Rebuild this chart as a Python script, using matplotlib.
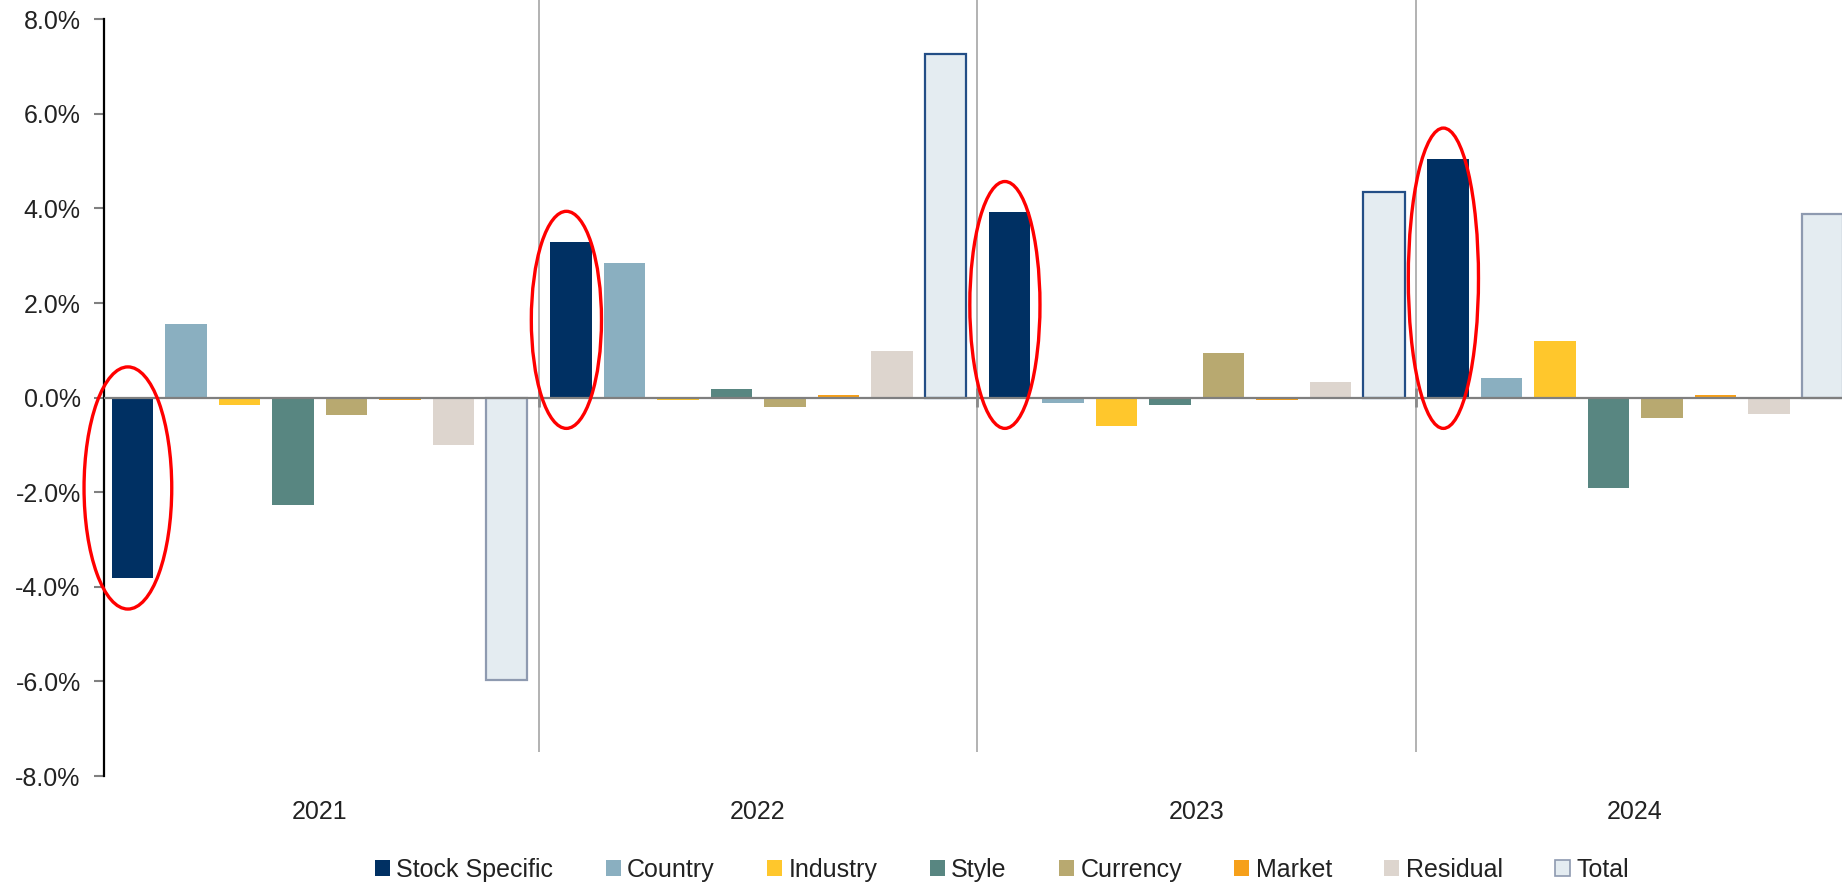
import numpy as np
import matplotlib.pyplot as plt
from matplotlib.patches import Ellipse, Patch

plt.rcParams['font.family'] = ['Liberation Sans', 'DejaVu Sans']

# data (% contribution)
years = ['2021', '2022', '2023', '2024']
factors = ['Stock Specific', 'Country', 'Industry', 'Style', 'Currency', 'Market', 'Residual', 'Total']
stock_specific = [-3.82, 3.29, 3.92, 5.05]
country = [1.55, 2.85, -0.12, 0.41]
industry = [-0.16, -0.04, -0.60, 1.19]
style = [-2.27, 0.18, -0.16, -1.90]
currency = [-0.36, -0.19, 0.94, -0.44]
market = [-0.05, 0.06, -0.04, 0.06]
residual = [-1.01, 0.98, 0.34, -0.35]
total = [-5.97, 7.27, 4.35, 3.89]

series = [stock_specific, country, industry, style, currency, market, residual, total]
colors = ['#003063', '#8AAFC0', '#FFC72C', '#588681', '#B8A970', '#F6A01A', '#DDD5CE', '#E4ECF1']
total_edges = ['#8E9AB0', '#234E86', '#234E86', '#8E9AB0']

fig = plt.figure(figsize=(18.42, 8.86), dpi=100)
ax = fig.add_axes([104.3 / 1842, 1 - 776 / 886, (1842 - 104.3) / 1842, (776 - 19.3) / 886])

x = np.arange(len(years))
pitch = 0.122
width = 0.0946
for i, vals in enumerate(series):
    pos = x + (i - 3.5) * pitch
    if factors[i] == 'Total':
        ax.bar(pos, vals, width, color=colors[i], edgecolor=total_edges, linewidth=1.6, zorder=2)
    else:
        ax.bar(pos, vals, width, color=colors[i], zorder=2)

ax.set_xlim(-0.4908, 3.472)
ax.set_ylim(-8, 8)

# zero line and year separators
ax.axhline(0, color='#7F7F7F', lw=1.6, zorder=3)
ax.vlines([0.5, 1.5, 2.5], -7.5, 8.45, colors='#A6A6A6', lw=1.2, clip_on=False, zorder=1)
ax.vlines([0.5, 1.5, 2.5], -0.2, 0.2, colors='#8A8A8A', lw=2, zorder=3)

for s in ['top', 'right', 'bottom']:
    ax.spines[s].set_visible(False)
ax.spines['left'].set_color('black')
ax.spines['left'].set_linewidth(1.6)

yt = np.arange(-8, 9, 2)
ax.set_yticks(yt)
ax.set_yticklabels([f'{v:.1f}%' for v in yt])
ax.tick_params(axis='y', direction='out', length=7, width=1.5, color='#808080',
               pad=10, labelsize=18, labelcolor='#222222')
ax.set_xticks(x)
ax.set_xticklabels(years)
ax.tick_params(axis='x', length=0, pad=17, labelsize=18, labelcolor='#222222')

# red ellipses around stock specific bars
ell_w = [0.2, 0.16, 0.16, 0.16]
for k, v in enumerate(stock_specific):
    cx = k - 3.5 * pitch - 0.01
    e = Ellipse((cx, v / 2), ell_w[k], abs(v) + 1.3, fill=False, ec='#FF0000',
                lw=2.4, clip_on=False, zorder=5)
    ax.add_patch(e)

handles = []
for i, f in enumerate(factors):
    if f == 'Total':
        handles.append(Patch(facecolor=colors[i], edgecolor='#8E9AB0', linewidth=1.2))
    else:
        handles.append(Patch(facecolor=colors[i], edgecolor='none'))
fig.legend(handles, factors, loc='center', bbox_to_anchor=(0.544, 0.018), ncol=8,
           frameon=False, fontsize=18, handlelength=0.6, handleheight=0.6,
           handletextpad=0.25, columnspacing=2.1, labelcolor='#222222')

fig.savefig('out.png', dpi=100)
